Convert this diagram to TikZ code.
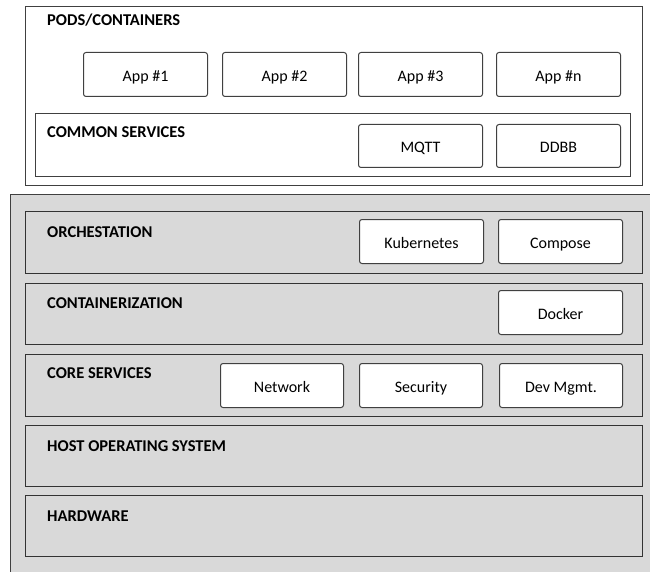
\documentclass[tikz,border=0pt]{standalone}
\usepackage{fontspec}
\setmainfont{Carlito}
\definecolor{linegray}{HTML}{404040}
\definecolor{linedark}{HTML}{333333}
\definecolor{layergray}{HTML}{D9D9D9}
\begin{document}
\begin{tikzpicture}[x=1pt,y=-1pt,
  panel/.style={draw=linegray, line width=1pt, anchor=north west, inner sep=0pt},
  layer/.style={draw=linedark, fill=layergray, line width=1.3pt, anchor=north west,
                inner sep=0pt, minimum width=617pt},
  item/.style={draw=linegray, fill=white, rounded corners=2.5pt, line width=1pt,
               anchor=north west, minimum width=124pt, minimum height=44pt, inner sep=0pt,
               font=\fontsize{16}{19}\selectfont, text height=14pt, text depth=0pt},
  title/.style={anchor=base west, inner sep=0pt, font=\bfseries\fontsize{16.5}{19}\selectfont}
]
\useasboundingbox (0,0) rectangle (650,572);

% grey platform stack, running off the page at right and bottom
\begin{scope}
  \clip (0,0) rectangle (650,572);
  \fill[layergray] (10,195) rectangle (660,590);
  \draw[linegray, line width=1pt] (10,590) -- (10,195) -- (660,195);
\end{scope}

% pods / containers panel
\node[panel, minimum width=617pt, minimum height=179pt] (pods) at (25,6) {};
\node[title] (podsT) at (47,26) {PODS/CONTAINERS};
\node[item] (app1) at (83,52)  {App \#1};
\node[item] (app2) at (222,52) {App \#2};
\node[item] (app3) at (358,52) {App \#3};
\node[item] (appn) at (496,52) {App \#n};

\node[panel, minimum width=595pt, minimum height=63pt] (common) at (35,113) {};
\node[title] (commonT) at (47,138) {COMMON SERVICES};
\node[item, minimum height=43pt] (mqtt) at (358,124) {MQTT};
\node[item, minimum height=43pt] (ddbb) at (496,124) {DDBB};

% platform layers
\node[layer, minimum height=62pt] (orch) at (25,211) {};
\node[title] (orchT) at (47,237) {ORCHESTATION};
\node[item] (kube) at (359,219) {Kubernetes};
\node[item] (compose) at (498,219) {Compose};

\node[layer, minimum height=61pt] (cont) at (25,283) {};
\node[title] (contT) at (47,308) {CONTAINERIZATION};
\node[item] (docker) at (498,290) {Docker};

\node[layer, minimum height=62pt] (core) at (25,354) {};
\node[title] (coreT) at (47,378) {CORE SERVICES};
\node[item, minimum width=123pt] (net) at (220,363) {Network};
\node[item, minimum width=123pt] (sec) at (359,363) {Security};
\node[item, minimum width=123pt] (dev) at (499,363) {Dev Mgmt.};

\node[layer, minimum height=61pt] (host) at (25,425) {};
\node[title] (hostT) at (47,451) {HOST OPERATING SYSTEM};

\node[layer, minimum height=61pt] (hw) at (25,495) {};
\node[title] (hwT) at (47,521) {HARDWARE};
\end{tikzpicture}
\end{document}
